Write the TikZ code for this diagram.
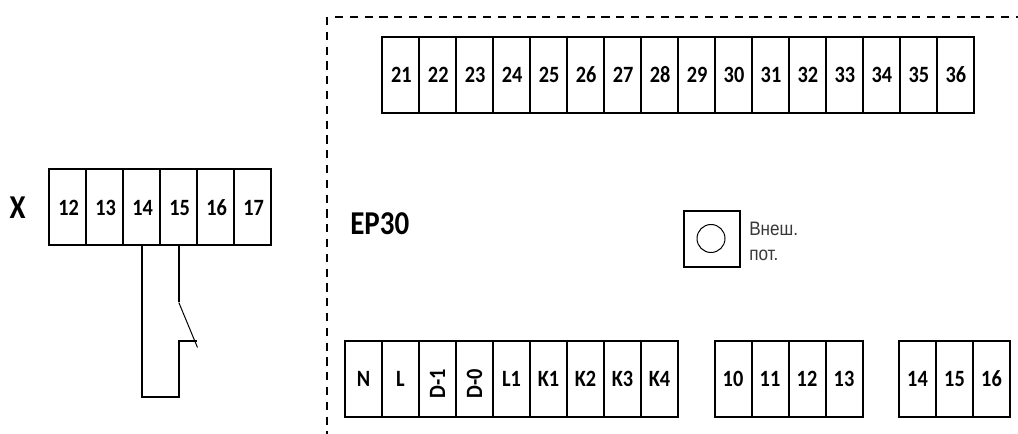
\documentclass[tikz,border=0pt]{standalone}
\usepackage{fontspec}
\setmainfont{Carlito}
\newfontfamily\numfamily[FakeStretch=0.87]{Carlito}
\newfontfamily\labelfont[FakeStretch=0.88]{Liberation Sans}
\newcommand{\numfont}{\numfamily\fontsize{17.5pt}{19pt}\selectfont\bfseries}
\tikzset{
  term/.style={draw=black,line width=1.5pt,outer sep=0pt,minimum width=27.75pt,minimum height=56.7pt,inner sep=0pt,font=\numfont,text height=12.2pt,text depth=0pt,anchor=north west,text width=27.75pt,align=center},
  wire/.style={draw=black,line width=1.5pt,line join=miter},
  thinwire/.style={draw=black,line width=0.75pt},
  frame/.style={draw=black,line width=1.5pt,dash pattern=on 6.15pt off 4.95pt},
  big/.style={font=\numfamily\fontsize{25pt}{27pt}\selectfont\bfseries,inner sep=0pt},
  note/.style={font=\labelfont\fontsize{14.6pt}{19pt}\selectfont,text=black!78,inner sep=0pt}
}
\newcommand{\rotlab}[1]{\raisebox{-8.5pt}{\rotatebox{90}{#1}}}
\begin{document}
\begin{tikzpicture}[x=0.75pt,y=-0.75pt]
\useasboundingbox (0,0) rectangle (1018,434);
% dashed frame
\coordinate (fb) at (327,434);
\coordinate (fc) at (327,17);
\coordinate (fs) at (335,17);
\coordinate (fr) at (1018,17);
\draw[frame] (fc) -- (fb);
\draw[frame] (fs) -- (fr);
% top row
\foreach \n [count=\i from 0] in {21,...,36}
  \node[term] (t\n) at ({382+\i*36.97},37) {\hspace{1.2pt}\n};
% X row
\foreach \n [count=\i from 0] in {12,...,17}
  \node[term] (x\n) at ({49.3+\i*37},169.5) {\hspace{1.2pt}\n};
% bottom group 1
\foreach \k/\lab [count=\i from 0] in {N/N,L/L,D1/{\rotlab{D-1}},D0/{\rotlab{D-0}},Lone/L1,K1/K1,K2/K2,K3/K3,K4/K4}
  \node[term] (b\k) at ({345+\i*37},341) {\lab};
\foreach \n [count=\i from 0] in {10,...,13}
  \node[term] (c\n) at ({714.5+\i*37},341) {\n};
\foreach \n [count=\i from 0] in {14,...,16}
  \node[term] (d\n) at ({899+\i*37},341) {\n};
% labels
\node[big] (xl) at (17.5,207.5) {X};
\node[big,anchor=west] (ep) at (350,224) {EP30};
% potentiometer
\node[draw=black,line width=1.5pt,outer sep=0pt,minimum width=41.5pt,minimum height=42.5pt,inner sep=0pt] (pot) at (712,239) {};
\node[draw=black,line width=0.75pt,circle,minimum size=21pt,inner sep=0pt] (knob) at (711,238.5) {};
\node[note,anchor=base west] (n1) at (749,235.5) {Внеш.};
\node[note,anchor=base west] (n2) at (749,261) {пот.};
% jumper
\coordinate (sa) at (x15.south |- 0,302.5);
\coordinate (sb) at (x15.south |- 0,340.7);
\coordinate (sc) at (197,340.7);
\coordinate (sd) at (197.5,347.5);
\coordinate (ba) at (x14.south |- 0,397);
\coordinate (bb) at (x15.south |- 0,397);
\draw[wire] (x15.south) -- (sa);
\draw[thinwire] (sa) -- (sd);
\draw[wire] (x14.south) -- (ba) -- (bb) -- (sb) -- (sc);
\end{tikzpicture}
\end{document}
